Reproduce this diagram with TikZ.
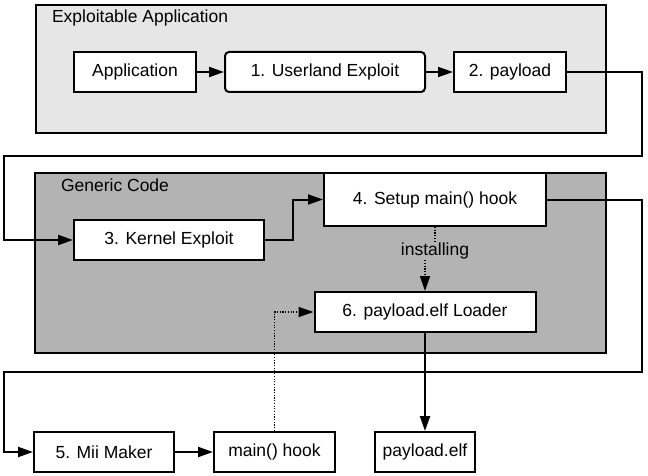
\documentclass[tikz,border=0pt]{standalone}
\usepackage{fontspec}
\setmainfont{Liberation Sans}
\usetikzlibrary{arrows.meta}
\definecolor{gone}{HTML}{E6E6E6}
\definecolor{gtwo}{HTML}{B3B3B3}
\begin{document}
\begin{tikzpicture}[x=1pt,y=-1pt,line width=2pt,
  every node/.style={font=\fontsize{17.5}{20}\selectfont},
  group/.style={draw,anchor=north west,inner sep=0pt,line width=2pt},
  box/.style={draw,fill=white,minimum height=40pt,inner sep=0pt,line width=2pt},
  arr/.style={-{Triangle[length=15pt,width=10pt]}},
  dotline/.style={dash pattern=on 1.2pt off 1.5pt,line width=1.5pt}]
\useasboundingbox (0,0) rectangle (648,476);
% groups
\node[group,fill=gone,minimum width=570pt,minimum height=128pt] (g1) at (35,4) {};
\node[group,fill=gtwo,minimum width=571pt,minimum height=180pt] (g2) at (34,172) {};
\node[anchor=base west,inner sep=0pt] (t1) at (51,23) {Exploitable Application};
\node[anchor=base west,inner sep=0pt] (t2) at (60,191) {Generic Code};
% boxes
\node[box,minimum width=122pt] (app) at (135,72) {Application};
\node[box,minimum width=200pt,rounded corners=4pt] (user) at (325,72) {1. Userland Exploit};
\node[box,minimum width=112pt] (pay) at (510,72) {2. payload};
\node[box,minimum width=190pt] (kern) at (169,240) {3. Kernel Exploit};
\node[box,minimum width=222pt,minimum height=53pt] (setup) at (435,199.5) {4. Setup main() hook};
\node[box,minimum width=221pt] (loader) at (425,312) {6. payload.elf Loader};
\node[box,minimum width=140pt] (mii) at (104,452) {5. Mii Maker};
\node[box,minimum width=121pt] (hook) at (274.5,452) {main() hook};
\node[box,minimum width=100pt] (elf) at (425,452) {payload.elf};
% connectors
\coordinate (c1) at (642,156);
\coordinate (c2) at (4,156);
\coordinate (c3) at (293,240);
\coordinate (c4) at (642,372);
\coordinate (c5) at (4,372);
\coordinate (j) at (425,250);
\draw[arr] (app) -- (user);
\draw[arr] (user) -- (pay);
\draw[arr] (pay.east) -| (c1) -- (c2) |- (kern.west);
\draw[arr] (kern.east) -- (c3) |- (setup.west);
\draw[arr] (setup.east) -| (c4) -- (c5) |- (mii.west);
\draw[arr] (mii) -- (hook);
\draw[arr,dotline] (hook.north) |- (loader.west);
\draw[arr] (loader.south) -- (elf.north);
\draw[arr,dotline] (setup.south) |- (j) -- (loader.north);
\node[fill=gtwo,inner sep=1pt] (inst) at (435,251) {installing};
\end{tikzpicture}
\end{document}
